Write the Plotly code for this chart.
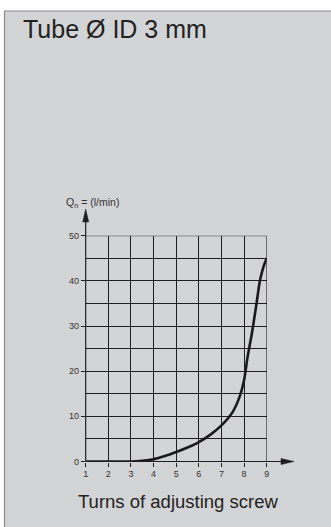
import plotly.graph_objects as go

# Data
turns = [1, 2, 3, 3.5, 4, 4.5, 5, 5.5, 6, 6.5, 7, 7.5, 7.8, 8, 8.15, 8.35, 8.55, 8.7, 8.85, 9]
flow = [0, 0, 0, 0.15, 0.5, 1.2, 2.1, 3.1, 4.3, 5.9, 8, 11, 14.3, 18, 23, 28.5, 35, 40, 43, 45]
x_ticks = [1, 2, 3, 4, 5, 6, 7, 8, 9]
y_ticks = [0, 10, 20, 30, 40, 50]

W, H = 331, 527
px = lambda v: v / W
py = lambda v: (H - v) / H

BOX = "#d3d4d6"
INK = "#1e1e1e"

X0, X1 = 85.7, 266.7   # pixel positions of x=1 and x=9
Y0, Y1 = 461.5, 235.7  # pixel positions of y=0 and y=50

fig = go.Figure()
fig.add_trace(go.Scatter(x=turns, y=flow, mode="lines",
                         line=dict(color="#1a1a1a", width=2.6, shape="spline", smoothing=0.7),
                         hoverinfo="skip", showlegend=False))

def tri(points):
    return "M " + " L ".join(f"{px(a):.5f},{py(b):.5f}" for a, b in points) + " Z"

fig.update_layout(
    width=W, height=H,
    margin=dict(l=0, r=0, t=0, b=0, autoexpand=False),
    paper_bgcolor="white",
    plot_bgcolor="rgba(0,0,0,0)",
    showlegend=False,
    font=dict(family="Liberation Sans, Arial, sans-serif", color="#333"),
    xaxis=dict(domain=[px(X0), px(X1)], range=[1, 9], tickvals=x_ticks,
               showgrid=True, gridcolor=INK, gridwidth=1,
               showline=False, automargin=False,
               ticks="outside", ticklen=4, tickcolor=INK, tickwidth=1,
               tickfont=dict(size=9, color="#333"), zeroline=False, fixedrange=True),
    yaxis=dict(domain=[py(Y0), py(Y1)], range=[0, 50], tickvals=y_ticks,
               showgrid=True, gridcolor=INK, gridwidth=1,
               minor=dict(dtick=5, showgrid=True, gridcolor=INK, gridwidth=1, ticks=""),
               showline=False, automargin=False,
               ticks="outside", ticklen=4, tickcolor=INK, tickwidth=1,
               tickfont=dict(size=9, color="#333"), zeroline=False, fixedrange=True),
    shapes=[
        dict(type="rect", xref="paper", yref="paper", x0=px(4.5), x1=1.02, y0=-0.02, y1=py(11),
             fillcolor=BOX, line=dict(color="#8a8a8a", width=1.2), layer="below"),
        # frame lines at x=9 and y=50
        dict(type="line", xref="x", yref="y", x0=9, x1=9, y0=0, y1=50, line=dict(color=INK, width=1)),
        dict(type="line", xref="x", yref="y", x0=1, x1=9, y0=50, y1=50, line=dict(color=INK, width=1)),
        # x axis with arrow
        dict(type="line", xref="paper", yref="paper", x0=px(X0), x1=px(284), y0=py(Y0), y1=py(Y0),
             line=dict(color=INK, width=1.2)),
        dict(type="path", xref="paper", yref="paper", path=tri([(294, Y0), (281, Y0 - 3), (281, Y0 + 3)]),
             fillcolor=INK, line=dict(color=INK, width=0.5)),
        # y axis with arrow
        dict(type="line", xref="paper", yref="paper", x0=px(X0), x1=px(X0), y0=py(Y0), y1=py(220),
             line=dict(color=INK, width=1.2)),
        dict(type="path", xref="paper", yref="paper", path=tri([(X0, 209), (X0 - 3, 222), (X0 + 3, 222)]),
             fillcolor=INK, line=dict(color=INK, width=0.5)),
    ],
    annotations=[
        dict(text="Tube Ø ID 3 mm", xref="paper", yref="paper", x=px(21), y=py(29),
             xanchor="left", yanchor="middle", showarrow=False,
             font=dict(size=25, color="#222", family="Liberation Sans, Arial, sans-serif")),
        dict(text="Turns of adjusting screw", xref="paper", yref="paper", x=px(178), y=py(501),
             xanchor="center", yanchor="middle", showarrow=False,
             font=dict(size=18.5, color="#222", family="Liberation Sans Narrow, Arial Narrow, Liberation Sans, sans-serif")),
        dict(text="Q<sub>n</sub> = (l/min)", xref="paper", yref="paper", x=px(64), y=py(203),
             xanchor="left", yanchor="middle", showarrow=False,
             font=dict(size=10.5, color="#333")),
    ],
)

fig.write_html("out.html", config={"displayModeBar": False, "staticPlot": True},
               post_script="document.body.style.margin='0';document.body.style.overflow='hidden';")
